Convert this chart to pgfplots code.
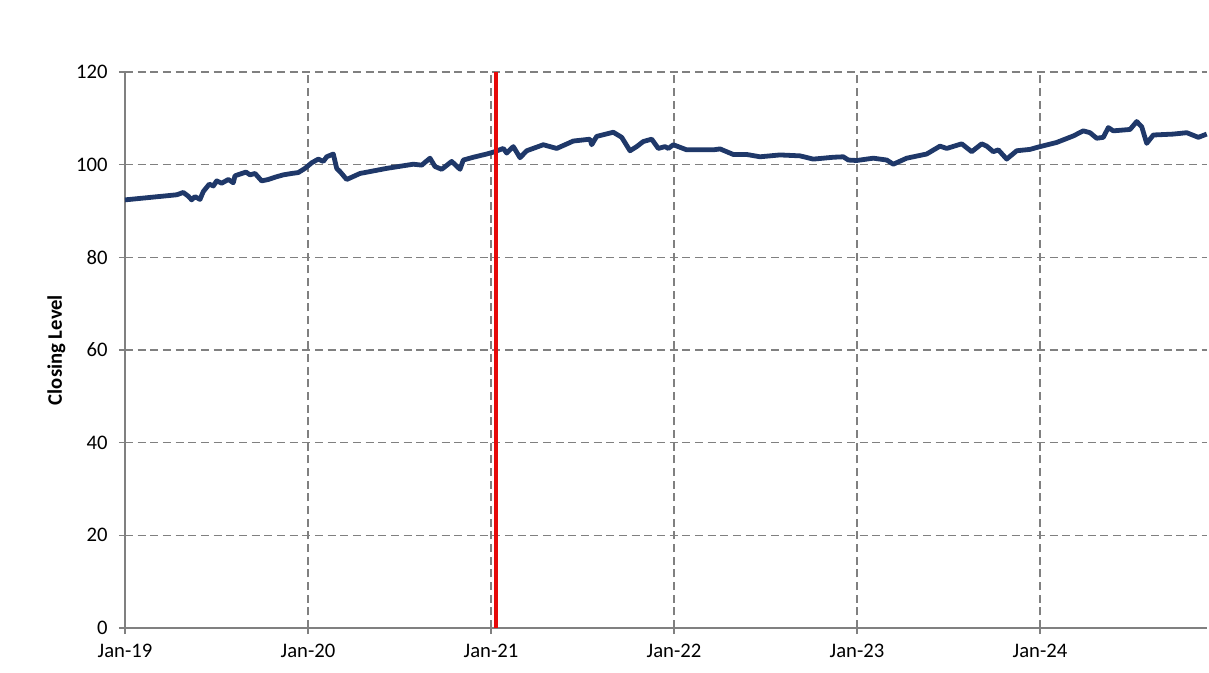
\documentclass[border=0pt]{standalone}
\usepackage{pgfplots}
\pgfplotsset{compat=1.18}
\usepackage{fontspec}
\setmainfont{Carlito}
\definecolor{navy}{RGB}{31,56,105}
\definecolor{gridgray}{RGB}{128,128,128}
\definecolor{redline}{RGB}{230,10,10}
\begin{document}
\begin{tikzpicture}
\begin{axis}[
  scale only axis,
  width=811.5pt, height=417pt,
  xmin=125, xmax=1207, ymin=0, ymax=120,
  axis lines=left,
  axis line style={-, draw=gridgray, line width=1.2pt},
  xtick={125,308,491,674,857,1040},
  xticklabels={Jan-19,Jan-20,Jan-21,Jan-22,Jan-23,Jan-24},
  ytick={0,20,40,60,80,100,120},
  tick align=outside,
  major tick length=4.5pt,
  tick style={draw=gridgray, line width=1.2pt},
  grid=major,
  major grid style={draw=gridgray, line width=1.2pt, dash pattern=on 6pt off 3.5pt},
  ticklabel style={font=\fontsize{15.5}{18}\selectfont},
  /pgf/number format/assume math mode=true,
  yticklabel style={xshift=-5pt},
  xticklabel style={yshift=-4pt},
  ylabel={\textbf{Closing Level}},
  ylabel style={font=\fontsize{15.5}{18}\selectfont, at={(axis description cs:0,0.5)}, anchor=center, yshift=51.5pt},
  clip=false,
]
\addplot[navy, line width=3.6pt, line join=round] coordinates {
(125,92.4) (153.3,93.0) (176.7,93.5) (183.3,94.0) (188.3,93.2) (191.7,92.4)
(195,93.1) (200,92.5) (203.3,94.2) (209.3,95.8) (213.3,95.4) (216.7,96.5)
(221.7,96.0) (228.3,96.8) (233.3,96.1) (235,97.6) (246,98.4) (250,97.8)
(255,98.1) (261.7,96.5) (268.3,96.8) (276.7,97.4) (283.3,97.8) (291.7,98.1)
(298.3,98.3) (305,99.2) (311.7,100.4) (318.3,101.2) (323.3,100.7) (326.7,101.7)
(333.3,102.3) (336.7,99.2) (340,98.5) (346.7,96.8) (360,98.1) (386.7,99.2)
(413.3,100.1) (421.7,99.9) (430,101.4) (435,99.6) (441.7,99.0) (451.7,100.7)
(460,99.0) (463.3,101.0) (473.3,101.6) (486.7,102.3) (493.3,102.7) (503.3,103.5)
(506.7,102.5) (513.3,103.9) (520,101.5) (526.7,103.0) (543.3,104.3) (556.7,103.5)
(573.3,105.1) (590,105.5) (591.7,104.3) (596.7,106.1) (613.3,107.0) (621.7,105.9)
(630,103.0) (636.7,103.9) (643.3,105.0) (651.7,105.5) (658.3,103.5) (665,103.9)
(668.3,103.5) (673.3,104.3) (686.7,103.2) (713.3,103.2) (720,103.4) (733.3,102.2)
(746.7,102.2) (760,101.7) (780,102.1) (800,101.9) (813.3,101.2) (833.3,101.6)
(843.3,101.7) (848.3,101.0) (856.7,100.9) (873.3,101.4) (886.7,101.0) (893.3,100.1)
(906.7,101.4) (926.7,102.3) (940,104.0) (946.7,103.5) (961.7,104.5) (971.7,102.8)
(981.7,104.5) (986.7,104.0) (993.3,102.8) (998.3,103.2) (1006.7,101.2) (1016.7,103.0)
(1030,103.3) (1040,103.9) (1056.7,104.8) (1073.3,106.2) (1083.3,107.3) (1090,106.9)
(1096.7,105.7) (1103.3,105.9) (1108.3,108.0) (1113.3,107.3) (1130,107.6) (1136.7,109.3)
(1141.7,108.2) (1146.7,104.6) (1153.3,106.4) (1173.3,106.6) (1186.7,106.9) (1198.3,105.9)
(1206.7,106.6)
};
\addplot[redline, line width=2.3pt] coordinates {(496,0) (496,120)};
\end{axis}
\pgfresetboundingbox
\path[use as bounding box] ([xshift=-93.75pt,yshift=-33pt]current axis.south west) rectangle ([xshift=1.5pt,yshift=54pt]current axis.north east);
\end{tikzpicture}
\end{document}
